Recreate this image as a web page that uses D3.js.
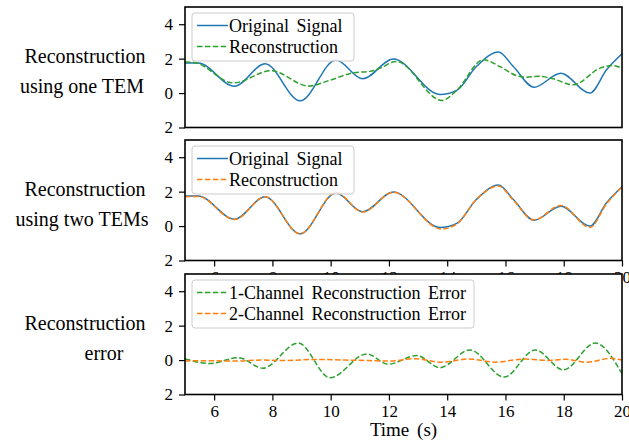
<!DOCTYPE html>
<html>
<head>
<meta charset="utf-8">
<script src="https://cdn.jsdelivr.net/npm/d3@7"></script>
<style>
  body { margin: 0; background: #fff; }
  text { font-family: "Liberation Serif", "DejaVu Serif", serif; fill: #000; }
</style>
</head>
<body>
<div id="chart"></div>
<script>
// values: [time (s), value]
const originalSignal = [
  [5.0, 1.74], [5.45, 1.74], [6.7, 0.40], [7.75, 1.70], [8.95, -0.45],
  [10.18, 1.92], [11.1, 0.83], [12.15, 1.98], [13.75, -0.08], [14.33, 0.16],
  [15.0, 1.54], [15.76, 2.39], [16.27, 1.54], [16.98, 0.34], [17.9, 1.15],
  [18.9, 0.0], [19.47, 1.35], [20.0, 2.28]
]
const reconOneTem = [
  [5.0, 1.80], [5.3, 1.78], [6.66, 0.59], [7.95, 1.30], [9.25, 0.41],
  [9.98, 0.75], [10.78, 1.18], [11.35, 1.26], [11.7, 1.45], [12.25, 1.84],
  [13.82, -0.43], [14.33, 0.16], [15.24, 1.94], [15.81, 1.54], [16.4, 1.0],
  [16.7, 0.92], [17.15, 0.98], [17.6, 0.85], [18.33, 0.48], [19.25, 1.45],
  [19.65, 1.6], [20.0, 1.45]
]
const reconTwoTems = [
  [5.0, 1.70], [5.45, 1.72], [6.7, 0.38], [7.75, 1.70], [8.95, -0.45],
  [10.18, 1.95], [11.1, 0.82], [12.15, 1.96], [13.8, -0.17], [14.33, 0.12],
  [15.0, 1.55], [15.76, 2.33], [16.27, 1.5], [16.98, 0.36], [17.9, 1.2],
  [18.9, -0.08], [19.47, 1.3], [20.0, 2.28]
]
const errOneChannel = [
  [5.0, 0.07], [5.86, -0.2], [6.83, 0.14], [7.67, -0.47], [8.89, 0.99],
  [9.98, -1.03], [11.24, 0.36], [11.98, -0.24], [12.95, 0.26], [13.75, -0.44],
  [14.78, 0.59], [15.95, -0.99], [17.02, 0.59], [17.99, -0.57], [19.08, 0.99],
  [20.0, -0.79]
]
const errTwoChannel = [
  [5.0, -0.05], [5.8, -0.04], [6.8, -0.06], [7.6, 0.0], [8.4, -0.03],
  [9.5, 0.04], [10.5, 0.0], [11.3, -0.03], [12.0, -0.06], [12.9, 0.08],
  [13.8, -0.12], [14.75, 0.06], [15.65, -0.12], [16.65, 0.06], [17.5, -0.02],
  [18.05, 0.05], [18.8, -0.13], [19.6, 0.1], [20.0, 0.0]
]

const xTicks = [6, 8, 10, 12, 14, 16, 18, 20]
const yTicks = [-2, 0, 2, 4]
const rowLabels = [
  ['Reconstruction', 'using one TEM'],
  ['Reconstruction', 'using two TEMs'],
  ['Reconstruction', 'error']
]

const blue = '#1f77b4', orange = '#ff7f0e', green = '#2ca02c'

const panels = [
  {
    series: [
      { name: 'Original Signal', data: originalSignal, color: blue, dash: null },
      { name: 'Reconstruction', data: reconOneTem, color: green, dash: '5.5,2.4' }
    ],
    legendW: 162, xAxis: false
  },
  {
    series: [
      { name: 'Original Signal', data: originalSignal, color: blue, dash: null },
      { name: 'Reconstruction', data: reconTwoTems, color: orange, dash: '5.5,2.4' }
    ],
    legendW: 162, xAxis: true
  },
  {
    series: [
      { name: '1-Channel Reconstruction Error', data: errOneChannel, color: green, dash: '5.5,2.4' },
      { name: '2-Channel Reconstruction Error', data: errTwoChannel, color: orange, dash: '5.5,2.4' }
    ],
    legendW: 282, xAxis: true
  }
]

const width = 629, height = 443
const left = 185, right = 622
const panelTops = [7, 140, 274]
const panelH = 120.5

const svg = d3.select('#chart').append('svg')
  .attr('width', width)
  .attr('height', height)

const x = d3.scaleLinear().domain([5, 20]).range([left, right])

const line = (y) => d3.line()
  .x(d => x(d[0]))
  .y(d => y(d[1]))
  .curve(d3.curveMonotoneX)

panels.forEach((p, i) => {
  const top = panelTops[i]
  const y = d3.scaleLinear().domain([-2, 5]).range([top + panelH, top])
  const g = svg.append('g')

  g.append('rect')
    .attr('x', left).attr('y', top)
    .attr('width', right - left).attr('height', panelH)
    .attr('fill', '#fff')

  g.append('clipPath').attr('id', 'clip' + i)
    .append('rect')
    .attr('x', left).attr('y', top)
    .attr('width', right - left).attr('height', panelH)

  p.series.forEach(s => {
    g.append('path')
      .datum(s.data)
      .attr('clip-path', `url(#clip${i})`)
      .attr('fill', 'none')
      .attr('stroke', s.color)
      .attr('stroke-width', 1.5)
      .attr('stroke-dasharray', s.dash)
      .attr('d', line(y))
  })

  // the minus sign of -2 does not show in the original figure
  const yAxis = g.append('g')
    .attr('transform', `translate(${left},0)`)
    .call(d3.axisLeft(y).tickValues(yTicks).tickSize(6).tickPadding(6)
      .tickFormat(d => String(Math.abs(d))))
  yAxis.select('.domain').remove()
  yAxis.selectAll('line').attr('stroke-width', 1.2)
  yAxis.selectAll('text').attr('font-size', 17)

  if (p.xAxis) {
    const xAxis = g.append('g')
      .attr('transform', `translate(0,${top + panelH})`)
      .call(d3.axisBottom(x).tickValues(xTicks).tickSize(6).tickPadding(4))
    xAxis.select('.domain').remove()
    xAxis.selectAll('line').attr('stroke-width', 1.2)
    xAxis.selectAll('text').attr('font-size', 17)
  }

  g.append('rect')
    .attr('x', left).attr('y', top)
    .attr('width', right - left).attr('height', panelH)
    .attr('fill', 'none')
    .attr('stroke', '#000')
    .attr('stroke-width', 1.6)

  // legend
  const lx = 192, ly = top + 6
  const leg = g.append('g')
  leg.append('rect')
    .attr('x', lx).attr('y', ly)
    .attr('width', p.legendW).attr('height', 48)
    .attr('rx', 3)
    .attr('fill', '#fff').attr('fill-opacity', 0.8)
    .attr('stroke', '#cccccc')
  p.series.forEach((s, j) => {
    const ry = ly + 12.5 + j * 21
    leg.append('line')
      .attr('x1', lx + 5).attr('x2', lx + 36)
      .attr('y1', ry).attr('y2', ry)
      .attr('stroke', s.color)
      .attr('stroke-width', 1.5)
      .attr('stroke-dasharray', s.dash)
    leg.append('text')
      .attr('x', lx + 37).attr('y', ry)
      .attr('dy', '0.35em')
      .attr('font-size', 18)
      .attr('word-spacing', 3)
      .text(s.name)
  })

  // row label on the left
  const cy = top + panelH / 2
  svg.append('text')
    .attr('x', 85).attr('y', cy - 4)
    .attr('text-anchor', 'middle')
    .attr('font-size', 20)
    .text(rowLabels[i][0])
  svg.append('text')
    .attr('x', i === 2 ? 104 : 82).attr('y', cy + 26)
    .attr('text-anchor', 'middle')
    .attr('font-size', 20)
    .text(rowLabels[i][1])
})

svg.append('text')
  .attr('x', (left + right) / 2)
  .attr('y', 436)
  .attr('text-anchor', 'middle')
  .attr('font-size', 19)
  .attr('word-spacing', 3)
  .text('Time (s)')
</script>
</body>
</html>
